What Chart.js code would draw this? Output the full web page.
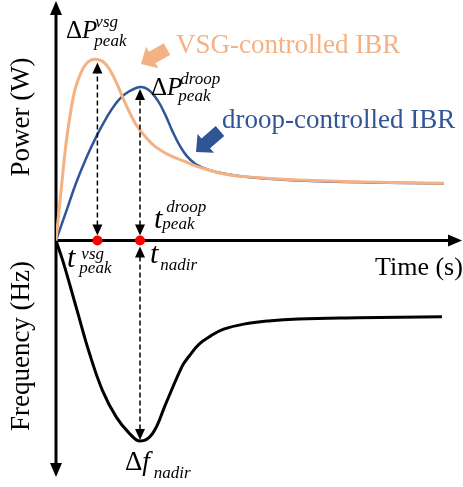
<!DOCTYPE html>
<html>
<head>
<meta charset="utf-8">
<script src="https://cdn.jsdelivr.net/npm/chart.js@4.4.0/dist/chart.umd.min.js"></script>
<style>
  html, body { margin: 0; padding: 0; background: #fff; }
  #wrap { width: 463px; height: 487px; }
</style>
</head>
<body>
<div id="wrap"><canvas id="chart"></canvas></div>
<script>
// schematic response after a load step, arbitrary units (time 0..10, power up, frequency down)
const vsgTime = [0, 0.12, 0.25, 0.37, 0.49, 0.66, 0.82, 1.03, 1.24, 1.48, 1.73, 1.98, 2.22, 2.47, 2.79, 3.19, 3.56, 4.22, 5.04, 6.03, 7.68, 9.65];
const vsgPower = [0, 1.21, 2.47, 3.31, 3.91, 4.36, 4.57, 4.61, 4.49, 4.07, 3.48, 2.97, 2.65, 2.39, 2.19, 2.02, 1.87, 1.69, 1.60, 1.54, 1.49, 1.46];
const droopTime = [0, 0.25, 0.49, 0.74, 0.99, 1.24, 1.48, 1.73, 2.09, 2.3, 2.54, 2.72, 2.89, 3.06, 3.24, 3.47, 3.8, 4.3, 5.04, 6.03, 7.75, 9.65];
const droopPower = [0, 0.73, 1.44, 2.07, 2.62, 3.10, 3.48, 3.74, 3.91, 3.84, 3.55, 3.20, 2.80, 2.45, 2.17, 1.95, 1.80, 1.68, 1.59, 1.53, 1.48, 1.45];
const freqTime = [0, 0.18, 0.51, 0.84, 1.16, 1.5, 1.83, 2.09, 2.4, 2.73, 3.14, 3.31, 3.56, 3.85, 4.17, 4.67, 5.28, 6.03, 7.51, 9.6];
const freqDev = [0, -0.55, -1.73, -2.9, -3.83, -4.5, -4.92, -5.11, -4.92, -4.16, -3.2, -2.95, -2.64, -2.43, -2.26, -2.13, -2.05, -2.0, -1.97, -1.94];

const keyTimes = [1.03, 2.09];          // t_peak^vsg, t_peak^droop (= t_nadir)
const peakVsg = 4.61;
const peakDroop = 3.91;
const nadirDev = -5.11;

const orange = '#F4B183';
const blue = '#2F5597';
const serif = '"Liberation Serif", "Times New Roman", serif';

const toXY = (xs, ys) => xs.map((x, i) => ({ x: x, y: ys[i] }));

function head(ctx, x, y, angle, len, w) {
    ctx.save();
    ctx.translate(x, y);
    ctx.rotate(angle);
    ctx.beginPath();
    ctx.moveTo(0, 0);
    ctx.lineTo(-len, -w / 2);
    ctx.lineTo(-len, w / 2);
    ctx.closePath();
    ctx.fill();
    ctx.restore();
}

function blockArrow(ctx, x0, y0, x1, y1, color) {
    const a = Math.atan2(y1 - y0, x1 - x0);
    const L = Math.hypot(x1 - x0, y1 - y0);
    const sw = 13, hw = 25, hl = 13;
    ctx.save();
    ctx.translate(x0, y0);
    ctx.rotate(a);
    ctx.beginPath();
    ctx.moveTo(0, -sw / 2);
    ctx.lineTo(L - hl, -sw / 2);
    ctx.lineTo(L - hl, -hw / 2);
    ctx.lineTo(L, 0);
    ctx.lineTo(L - hl, hw / 2);
    ctx.lineTo(L - hl, sw / 2);
    ctx.lineTo(0, sw / 2);
    ctx.closePath();
    ctx.fillStyle = color;
    ctx.fill();
    ctx.restore();
}

function dashedArrow(ctx, x, y0, y1) {
    // y0 -> y1, heads on both ends
    const dir = y1 > y0 ? 1 : -1;
    ctx.save();
    ctx.strokeStyle = '#000';
    ctx.fillStyle = '#000';
    ctx.lineWidth = 1.5;
    ctx.setLineDash([5, 3]);
    ctx.beginPath();
    ctx.moveTo(x, y0 + dir * 10);
    ctx.lineTo(x, y1 - dir * 10);
    ctx.stroke();
    ctx.setLineDash([]);
    head(ctx, x, y0, dir > 0 ? -Math.PI / 2 : Math.PI / 2, 11, 10);
    head(ctx, x, y1, dir > 0 ? Math.PI / 2 : -Math.PI / 2, 11, 10);
    ctx.restore();
}

function txt(ctx, s, x, y, font, color) {
    ctx.font = font;
    ctx.fillStyle = color || '#000';
    ctx.fillText(s, x, y);
    return ctx.measureText(s).width;
}

// symbol with super/subscript: upright prefix + italic letter, scripts placed after it
function sym(ctx, pre, letter, x, y, size, sup, supDx, supDy, sub, subDx, subDy) {
    let w = 0;
    if (pre) w += txt(ctx, pre, x, y, size + 'px ' + serif);
    w += txt(ctx, letter, x + w, y, 'italic ' + size + 'px ' + serif);
    const sx = x + w;
    if (sup) txt(ctx, sup, sx + supDx, y + supDy, 'italic 17px ' + serif);
    if (sub) txt(ctx, sub, sx + subDx, y + subDy, 'italic 17px ' + serif);
}

const schematic = {
    id: 'schematic',
    beforeDatasetsDraw(chart) {
        const { ctx, chartArea, scales } = chart;
        const ox = chartArea.left;
        const oy = scales.y.getPixelForValue(0);
        ctx.save();
        ctx.strokeStyle = '#000';
        ctx.fillStyle = '#000';
        ctx.lineWidth = 3;
        ctx.beginPath();
        ctx.moveTo(ox, 12);
        ctx.lineTo(ox, 466);
        ctx.moveTo(ox, oy);
        ctx.lineTo(452, oy);
        ctx.stroke();
        head(ctx, ox, 1, -Math.PI / 2, 14, 12);
        head(ctx, ox, 477, Math.PI / 2, 14, 12);
        head(ctx, 462, oy, 0, 14, 12);
        ctx.restore();
    },
    afterDatasetsDraw(chart) {
        const { ctx, scales } = chart;
        const x = scales.x, y = scales.y;
        const oy = y.getPixelForValue(0);
        const xv = x.getPixelForValue(keyTimes[0]);
        const xd = x.getPixelForValue(keyTimes[1]);
        ctx.save();
        ctx.textBaseline = 'alphabetic';
        ctx.textAlign = 'left';

        dashedArrow(ctx, xv, oy - 5, y.getPixelForValue(peakVsg) + 3);
        dashedArrow(ctx, xd, oy - 5, y.getPixelForValue(peakDroop) + 2);
        dashedArrow(ctx, xd, oy + 6, y.getPixelForValue(nadirDev) - 1);

        blockArrow(ctx, 167, 49, 141, 64, orange);
        blockArrow(ctx, 220, 131, 196, 152, blue);

        txt(ctx, 'VSG-controlled IBR', 176, 53, '27px ' + serif, orange);
        txt(ctx, 'droop-controlled IBR', 222, 128, '27px ' + serif, blue);

        sym(ctx, '\u0394', 'P', 66, 38, 25, 'vsg', -2, -11, 'peak', -3, 8);
        sym(ctx, '\u0394', 'P', 151, 95, 25, 'droop', -2, -11, 'peak', -4, 6);
        sym(ctx, '', 't', 154, 228, 30, 'droop', 4, -16, 'peak', 0, 1);
        sym(ctx, '', 't', 67, 267, 30, 'vsg', 6, -8, 'peak', 4, 6);
        sym(ctx, '', 't', 150, 263, 30, '', 0, 0, 'nadir', 2, 7);
        sym(ctx, '\u0394', 'f', 125, 470, 27, '', 0, 0, 'nadir', 4, 8);

        txt(ctx, 'Time (s)', 375, 275, '26px ' + serif);

        ctx.font = '27px ' + serif;
        ctx.fillStyle = '#000';
        ctx.textAlign = 'center';
        ctx.save();
        ctx.translate(29, 117);
        ctx.rotate(-Math.PI / 2);
        ctx.fillText('Power (W)', 0, 0);
        ctx.restore();
        ctx.save();
        ctx.translate(29, 346);
        ctx.rotate(-Math.PI / 2);
        ctx.fillText('Frequency (Hz)', 0, 0);
        ctx.restore();
        ctx.restore();
    }
};

new Chart(document.getElementById('chart'), {
    type: 'line',
    data: {
        datasets: [
            {
                type: 'scatter',
                data: keyTimes.map(t => ({ x: t, y: 0 })),
                pointRadius: 5,
                pointBackgroundColor: '#FF0000',
                pointBorderWidth: 0,
                order: 0,
            },
            {
                data: toXY(vsgTime, vsgPower),
                borderColor: orange,
                borderWidth: 3,
                pointRadius: 0,
                tension: 0.4,
                order: 1,
            },
            {
                data: toXY(droopTime, droopPower),
                borderColor: blue,
                borderWidth: 2.5,
                pointRadius: 0,
                tension: 0.4,
                order: 2,
            },
            {
                data: toXY(freqTime, freqDev),
                borderColor: '#000',
                borderWidth: 3,
                pointRadius: 0,
                tension: 0.4,
                order: 3,
            },
        ],
    },
    options: {
        responsive: true,
        maintainAspectRatio: false,
        animation: false,
        layout: { padding: { left: 56, right: 2, top: 0, bottom: 11 } },
        scales: {
            x: { type: 'linear', min: 0, max: 10, display: false },
            y: { type: 'linear', min: -6, max: 6, display: false },
        },
        plugins: {
            legend: { display: false },
            tooltip: { enabled: false },
        },
    },
    plugins: [schematic],
});
</script>
</body>
</html>
